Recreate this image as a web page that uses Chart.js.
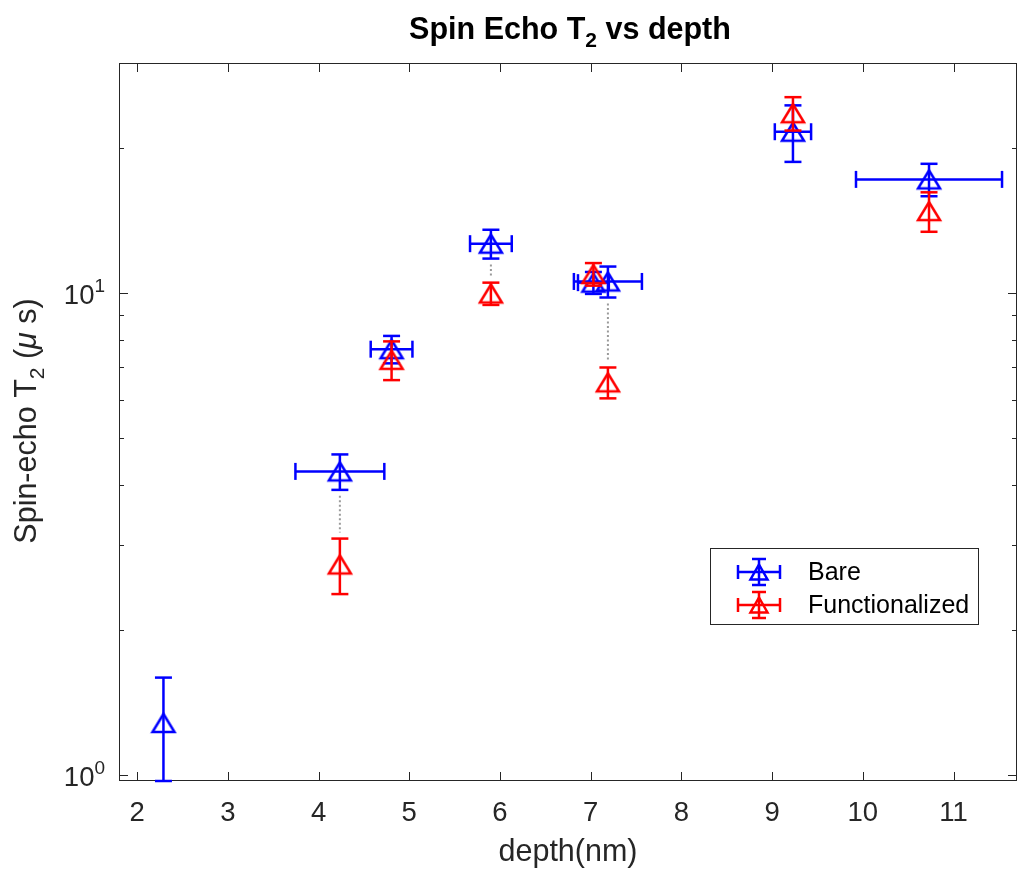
<!DOCTYPE html>
<html><head><meta charset="utf-8">
<script src="https://cdn.jsdelivr.net/npm/chart.js@4/dist/chart.umd.min.js"></script>
<style>html,body{margin:0;padding:0;background:#fff}#wrap{width:1018px;height:871px}</style>
</head><body><div id="wrap"><canvas id="c" width="1018" height="871"></canvas></div>
<script>
const seriesNames = ['Bare', 'Functionalized'];
const bareDepth    = [2.29, 4.235, 4.805, 5.90, 7.03, 7.19, 9.23, 10.73];
const bareT2       = [1.28, 4.26, 7.64, 12.65, 10.5, 10.56, 21.6, 17.2];
const bareT2Err    = [0.31, 0.36, 0.50, 0.87, 0.55, 0.78, 2.9, 1.33];
const bareDepthErr = [0, 0.49, 0.23, 0.23, 0.17, 0.375, 0.2, 0.805];
const funcDepth    = [4.235, 4.805, 5.90, 7.03, 7.19, 9.23, 10.73];
const funcT2       = [2.73, 7.26, 9.97, 10.94, 6.52, 23.6, 14.78];
const funcT2Err    = [0.36, 0.67, 0.53, 0.59, 0.48, 1.88, 1.39];
const funcDepthErr = [0, 0, 0, 0, 0, 0, 0];
const xTicks = [2, 3, 4, 5, 6, 7, 8, 9, 10, 11];
const yMajorTicks = [1, 10];
const yTickBase = ['10', '10'];
const yTickExp = ['0', '1'];
const yMinorTicks = [2, 3, 4, 5, 6, 7, 8, 9, 20, 30];

const FONT = "'Liberation Sans', Arial, Helvetica, sans-serif";
const AX = '#262626';
const colors = ['#0000ff', '#ff0000'];

const errs = [
  {x: bareDepth, y: bareT2, ye: bareT2Err, xe: bareDepthErr},
  {x: funcDepth, y: funcT2, ye: funcT2Err, xe: funcDepthErr}
];

function line(ctx, x1, y1, x2, y2) { ctx.beginPath(); ctx.moveTo(x1, y1); ctx.lineTo(x2, y2); ctx.stroke(); }

function triPath(ctx, cx, cy, w, h) {
  ctx.beginPath();
  ctx.moveTo(cx, cy - h / 2);
  ctx.lineTo(cx + w / 2, cy + h / 2);
  ctx.lineTo(cx - w / 2, cy + h / 2);
  ctx.closePath();
  ctx.stroke();
}

function markerImage(color) {
  const c = document.createElement('canvas');
  c.width = 28; c.height = 24;
  const g = c.getContext('2d');
  g.strokeStyle = color; g.lineWidth = 2.5; g.lineJoin = 'miter';
  triPath(g, 14, 12, 22, 18);
  return c;
}

const plugin = {
  id: 'errbars',
  beforeDatasetsDraw(chart) {
    const ctx = chart.ctx, xs = chart.scales.x, ys = chart.scales.y, a = chart.chartArea;
    ctx.save();
    ctx.strokeStyle = AX; ctx.lineWidth = 1;
    ctx.strokeRect(a.left + 0.5, a.top + 0.5, a.right - a.left - 1, a.bottom - a.top - 1);
    xTicks.forEach(v => {
      const px = Math.round(xs.getPixelForValue(v)) + 0.5;
      line(ctx, px, a.bottom, px, a.bottom - 9);
      line(ctx, px, a.top, px, a.top + 9);
    });
    yMajorTicks.forEach(v => {
      const py = Math.round(ys.getPixelForValue(v)) + 0.5;
      line(ctx, a.left, py, a.left + 9, py);
      line(ctx, a.right, py, a.right - 9, py);
    });
    yMinorTicks.forEach(v => {
      const py = Math.round(ys.getPixelForValue(v)) + 0.5;
      if (py < a.top + 2) return;
      line(ctx, a.left, py, a.left + 5, py);
      line(ctx, a.right, py, a.right - 5, py);
    });
    ctx.fillStyle = AX; ctx.textBaseline = 'alphabetic';
    yMajorTicks.forEach((v, i) => {
      const py = ys.getPixelForValue(v);
      ctx.font = '19px ' + FONT; const we = ctx.measureText(yTickExp[i]).width;
      ctx.font = '27.5px ' + FONT; const wb = ctx.measureText(yTickBase[i]).width;
      const xr = a.left - 14;
      ctx.fillText(yTickBase[i], xr - we - wb, py + 11);
      ctx.font = '19px ' + FONT; ctx.fillText(yTickExp[i], xr - we, py - 1);
    });
    ctx.strokeStyle = '#9a9a9a'; ctx.lineWidth = 2; ctx.setLineDash([2, 2.5]);
    bareDepth.forEach((d, i) => {
      const j = funcDepth.findIndex(f => Math.abs(f - d) < 0.01);
      if (j < 0) return;
      const lo = bareT2[i] - bareT2Err[i], hi = funcT2[j] + funcT2Err[j];
      if (lo <= hi) return;
      const px = xs.getPixelForValue(d);
      const y1 = ys.getPixelForValue(lo) + 6, y2 = ys.getPixelForValue(hi) - 6;
      if (y2 > y1) line(ctx, px, y1, px, y2);
    });
    ctx.restore();
  },
  beforeDatasetDraw(chart, args) {
    const e = errs[args.index];
    if (!e) return;
    const ctx = chart.ctx, xs = chart.scales.x, ys = chart.scales.y;
    ctx.save();
    ctx.strokeStyle = colors[args.index]; ctx.lineWidth = 2.5; ctx.lineCap = 'butt';
    const cap = 8.5;
    e.x.forEach((xv, i) => {
      const px = xs.getPixelForValue(xv), py = ys.getPixelForValue(e.y[i]);
      const yt = ys.getPixelForValue(e.y[i] + e.ye[i]);
      const yb = ys.getPixelForValue(e.y[i] - e.ye[i]);
      line(ctx, px, yt, px, yb);
      line(ctx, px - cap, yt, px + cap, yt);
      line(ctx, px - cap, yb, px + cap, yb);
      if (e.xe[i] > 0) {
        const xl = xs.getPixelForValue(xv - e.xe[i]), xr = xs.getPixelForValue(xv + e.xe[i]);
        line(ctx, xl, py, xr, py);
        line(ctx, xl, py - cap, xl, py + cap);
        line(ctx, xr, py - cap, xr, py + cap);
      }
    });
    ctx.restore();
  },
  afterDraw(chart) {
    const ctx = chart.ctx, a = chart.chartArea;
    ctx.save();
    ctx.fillStyle = '#000'; ctx.textBaseline = 'alphabetic';
    const f1 = 'bold 30.5px ' + FONT, f2 = 'bold 21px ' + FONT;
    ctx.font = f1; const w1 = ctx.measureText('Spin Echo T').width, w3 = ctx.measureText(' vs depth').width;
    ctx.font = f2; const w2 = ctx.measureText('2').width;
    let x0 = (a.left + a.right) / 2 + 2 - (w1 + w2 + w3) / 2;
    const by = 39;
    ctx.font = f1; ctx.fillText('Spin Echo T', x0, by);
    ctx.font = f2; ctx.fillText('2', x0 + w1, by + 8);
    ctx.font = f1; ctx.fillText(' vs depth', x0 + w1 + w2, by);
    ctx.save();
    ctx.translate(36, (a.top + a.bottom) / 2 - 1);
    ctx.rotate(-Math.PI / 2);
    ctx.fillStyle = AX;
    const parts = [
      {t: 'Spin-echo T', f: '30.5px ' + FONT, dy: 0},
      {t: '2', f: '21px ' + FONT, dy: 8},
      {t: ' (', f: '30.5px ' + FONT, dy: 0},
      {t: 'μ', f: 'italic 30.5px ' + FONT, dy: 0},
      {t: ' s)', f: '30.5px ' + FONT, dy: 0}
    ];
    let tw = 0;
    parts.forEach(p => { ctx.font = p.f; p.w = ctx.measureText(p.t).width; tw += p.w; });
    let cx = -tw / 2;
    parts.forEach(p => { ctx.font = p.f; ctx.fillText(p.t, cx, p.dy); cx += p.w; });
    ctx.restore();
    const lx = 710.5, ly = 548.5, lw = 268, lh = 76;
    ctx.fillStyle = '#fff'; ctx.fillRect(lx, ly, lw, lh);
    ctx.strokeStyle = AX; ctx.lineWidth = 1; ctx.strokeRect(lx, ly, lw, lh);
    seriesNames.forEach((name, i) => {
      const cy = 572 + i * 33, sx = 759;
      ctx.strokeStyle = colors[i]; ctx.lineWidth = 2.5;
      line(ctx, 738, cy, 780, cy);
      line(ctx, 738, cy - 7, 738, cy + 7);
      line(ctx, 780, cy - 7, 780, cy + 7);
      line(ctx, sx, cy - 13, sx, cy + 13);
      line(ctx, sx - 7, cy - 13, sx + 7, cy - 13);
      line(ctx, sx - 7, cy + 13, sx + 7, cy + 13);
      triPath(ctx, sx, cy, 17, 15);
      ctx.fillStyle = '#000'; ctx.font = '25px ' + FONT; ctx.textBaseline = 'middle';
      ctx.fillText(name, 808, cy + 1);
    });
    ctx.restore();
  }
};

const mk = (xa, ya) => xa.map((v, i) => ({x: v, y: ya[i]}));

new Chart(document.getElementById('c'), {
  type: 'scatter',
  data: {
    datasets: [
      {label: seriesNames[0], data: mk(bareDepth, bareT2), pointStyle: markerImage(colors[0]), radius: 11,
       borderColor: colors[0], backgroundColor: 'rgba(0,0,0,0)', borderWidth: 2.5, order: 1},
      {label: seriesNames[1], data: mk(funcDepth, funcT2), pointStyle: markerImage(colors[1]), radius: 11,
       borderColor: colors[1], backgroundColor: 'rgba(0,0,0,0)', borderWidth: 2.5, order: 0}
    ]
  },
  options: {
    responsive: false, animation: false, devicePixelRatio: 1,
    layout: {autoPadding: false, padding: {top: 63, right: 1, left: 0, bottom: 0}},
    plugins: {legend: {display: false}, tooltip: {enabled: false}, title: {display: false}},
    scales: {
      x: {
        type: 'linear', min: 1.8, max: 11.7,
        afterBuildTicks: s => { s.ticks = xTicks.map(v => ({value: v})); },
        afterFit: s => { s.height = 90; s.paddingLeft = 0; s.paddingRight = 0; },
        grid: {display: false, drawTicks: false}, border: {display: false},
        ticks: {font: {family: FONT, size: 27.5}, color: AX, padding: 16, maxRotation: 0, autoSkip: false},
        title: {display: true, text: 'depth(nm)', font: {family: FONT, size: 30.5}, color: AX, padding: {top: 0, bottom: 0}}
      },
      y: {
        type: 'logarithmic', min: 0.97, max: 30,
        afterBuildTicks: s => { s.ticks = yMajorTicks.map(v => ({value: v, major: true})); },
        afterFit: s => { s.width = 119; s.paddingTop = 0; s.paddingBottom = 0; },
        grid: {display: false, drawTicks: false}, border: {display: false},
        ticks: {display: false}
      }
    }
  },
  plugins: [plugin]
});
</script></body></html>
